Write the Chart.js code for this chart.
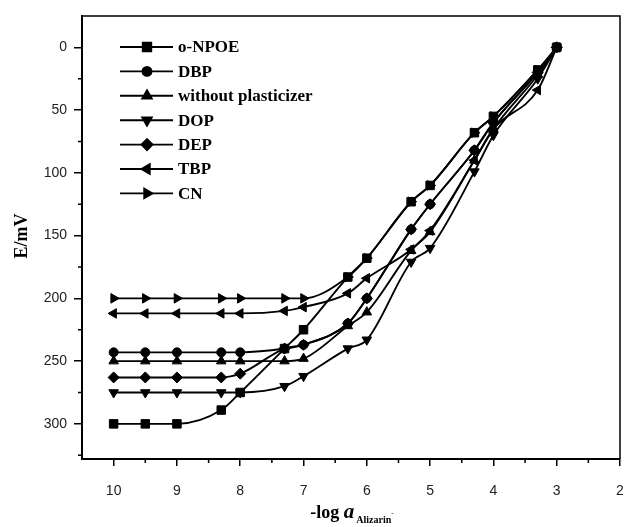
<!DOCTYPE html>
<html><head><meta charset="utf-8">
<style>html,body{margin:0;padding:0;background:#fff}#c{display:block}</style>
<script src="https://cdn.jsdelivr.net/npm/chart.js@4"></script>
</head><body>
<canvas id="c" width="627" height="527"></canvas>
<script>
// ---- data ----
const xValues = [10, 9.5, 9, 8.3, 8, 7.3, 7, 6.3, 6, 5.3, 5, 4.3, 4, 3.3, 3];
const seriesNames = ['o-NPOE', 'DBP', 'without plasticizer', 'DOP', 'DEP', 'TBP', 'CN'];
const oNPOE   = [300, 300, 300, 289, 275, 240, 225, 183, 168, 123, 110, 68, 55, 18, 0];
const dbp     = [243, 243, 243, 243, 243, 240, 237, 220, 200, 145, 125, 82, 60, 20, 0];
const noPlast = [250, 250, 250, 250, 250, 250, 248, 222, 211, 162, 147, 90, 65, 22, 0];
const dop     = [275, 275, 275, 275, 275, 270, 262, 240, 233, 171, 160, 99, 70, 25, 0];
const dep     = [263, 263, 263, 263, 260, 240, 237, 220, 200, 145, 125, 82, 60, 20, 0];
const tbp     = [212, 212, 212, 212, 212, 210, 207, 196, 184, 161, 146, 90, 65, 34, 0];
const cn      = [200, 200, 200, 200, 200, 200, 200, 183, 168, 123, 110, 68, 55, 18, 0];
const xTickValues = [10, 9, 8, 7, 6, 5, 4, 3, 2];
const yTickValues = [0, 50, 100, 150, 200, 250, 300];
const xMinorTicks = [9.5, 8.5, 7.5, 6.5, 5.5, 4.5, 3.5, 2.5];
const yMinorTicks = [25, 75, 125, 175, 225, 275, 325];

const allSeries = [oNPOE, dbp, noPlast, dop, dep, tbp, cn];
const styles = [
  {pointStyle: 'rect', r: 6, rot: 0},
  {pointStyle: 'circle', r: 4.5, rot: 0},
  {pointStyle: 'triangle', r: 5.5, rot: 0},
  {pointStyle: 'triangle', r: 5.5, rot: 180},
  {pointStyle: 'rectRot', r: 5.5, rot: 0},
  {pointStyle: 'triangle', r: 5.5, rot: 270},
  {pointStyle: 'triangle', r: 5.5, rot: 90}
];

const datasets = allSeries.map((vals, i) => ({
  label: seriesNames[i],
  data: xValues.map((x, j) => ({x: x, y: vals[j]})),
  borderColor: '#000',
  backgroundColor: '#000',
  borderWidth: 1.9,
  pointStyle: styles[i].pointStyle,
  pointRadius: styles[i].r,
  pointRotation: styles[i].rot,
  pointBorderWidth: 1,
  pointBorderColor: '#000',
  pointBackgroundColor: '#000',
  cubicInterpolationMode: 'monotone',
  fill: false
}));

const decor = {
  id: 'decor',
  afterDraw(chart) {
    const ctx = chart.ctx;
    const a = chart.chartArea;
    const xs = chart.scales.x, ys = chart.scales.y;
    ctx.save();
    // frame top and right
    ctx.strokeStyle = '#000';
    ctx.lineWidth = 1.5;
    ctx.beginPath();
    ctx.moveTo(a.left, a.top); ctx.lineTo(a.right, a.top); ctx.lineTo(a.right, a.bottom);
    ctx.stroke();
    // minor ticks
    ctx.lineWidth = 1.5;
    ctx.beginPath();
    yMinorTicks.forEach(v => { const p = ys.getPixelForValue(v); ctx.moveTo(a.left - 4, p); ctx.lineTo(a.left, p); });
    xMinorTicks.forEach(v => { const p = xs.getPixelForValue(v); ctx.moveTo(p, a.bottom); ctx.lineTo(p, a.bottom + 4); });
    ctx.stroke();
    // legend
    chart.data.datasets.forEach((ds, i) => {
      const y = 47 + i * 24.4;
      ctx.strokeStyle = '#000'; ctx.lineWidth = 1.9;
      ctx.beginPath(); ctx.moveTo(120, y); ctx.lineTo(173, y); ctx.stroke();
      ctx.fillStyle = '#000';
      Chart.helpers.drawPoint(ctx, {pointStyle: ds.pointStyle, radius: ds.pointRadius, rotation: ds.pointRotation, borderWidth: 1}, 147, y);
      ctx.fill();
      ctx.fillStyle = '#000';
      ctx.font = 'bold 17px "Liberation Serif", serif';
      ctx.textBaseline = 'middle'; ctx.textAlign = 'left';
      ctx.fillText(ds.label, 178, y + 1);
    });
    // y title
    ctx.save();
    ctx.translate(22, 236);
    ctx.rotate(-Math.PI / 2);
    ctx.font = 'bold 18px "Liberation Serif", serif';
    ctx.textAlign = 'center'; ctx.textBaseline = 'middle';
    ctx.fillText('E/mV', 0, 0);
    ctx.restore();
    // x title
    const f1 = 'bold 18px "Liberation Serif", serif';
    const f2 = 'bold italic 21px "Liberation Serif", serif';
    const f3 = 'bold 10px "Liberation Serif", serif';
    const f4 = 'bold 7px "Liberation Serif", serif';
    const t1 = '-log ', t2 = 'a', t3 = 'Alizarin', t4 = '-';
    ctx.font = f1; const w1 = ctx.measureText(t1).width;
    ctx.font = f2; const w2 = ctx.measureText(t2).width;
    ctx.font = f3; const w3 = ctx.measureText(t3).width;
    ctx.font = f4; const w4 = ctx.measureText(t4).width;
    let x0 = 352 - (w1 + w2 + 2 + w3 + w4) / 2;
    const base = 518;
    ctx.textAlign = 'left'; ctx.textBaseline = 'alphabetic';
    ctx.font = f1; ctx.fillText(t1, x0, base); x0 += w1;
    ctx.font = f2; ctx.fillText(t2, x0, base); x0 += w2 + 2;
    ctx.font = f3; ctx.fillText(t3, x0, base + 5); x0 += w3;
    ctx.font = f4; ctx.fillText(t4, x0, base - 3);
    ctx.restore();
  }
};

new Chart(document.getElementById('c'), {
  type: 'line',
  data: {datasets: datasets},
  options: {
    responsive: false,
    animation: false,
    devicePixelRatio: 1,
    layout: {padding: {left: 0, top: 16, right: 0, bottom: 0}},
    plugins: {legend: {display: false}, tooltip: {enabled: false}},
    scales: {
      x: {
        type: 'linear', reverse: true, min: 2, max: 10.5,
        afterBuildTicks: s => { s.ticks = xTickValues.map(v => ({value: v})); },
        afterFit: s => { s.height = 68; s.paddingLeft = 0; s.paddingRight = 3; },
        ticks: {font: {family: '"Liberation Sans", Arial, sans-serif', size: 14}, color: '#222', padding: 17, maxRotation: 0, autoSkip: false},
        grid: {drawOnChartArea: false, tickLength: 7, color: '#000', lineWidth: 1.5},
        border: {display: true, color: '#000', width: 2}
      },
      y: {
        type: 'linear', reverse: true, min: -25, max: 328,
        afterBuildTicks: s => { s.ticks = yTickValues.map(v => ({value: v})); },
        afterFit: s => { s.width = 82; },
        ticks: {font: {family: '"Liberation Sans", Arial, sans-serif', size: 14}, color: '#222', padding: 7, autoSkip: false},
        grid: {drawOnChartArea: false, tickLength: 8, color: '#000', lineWidth: 1.5},
        border: {display: true, color: '#000', width: 2}
      }
    }
  },
  plugins: [decor]
});
</script>
</body></html>
